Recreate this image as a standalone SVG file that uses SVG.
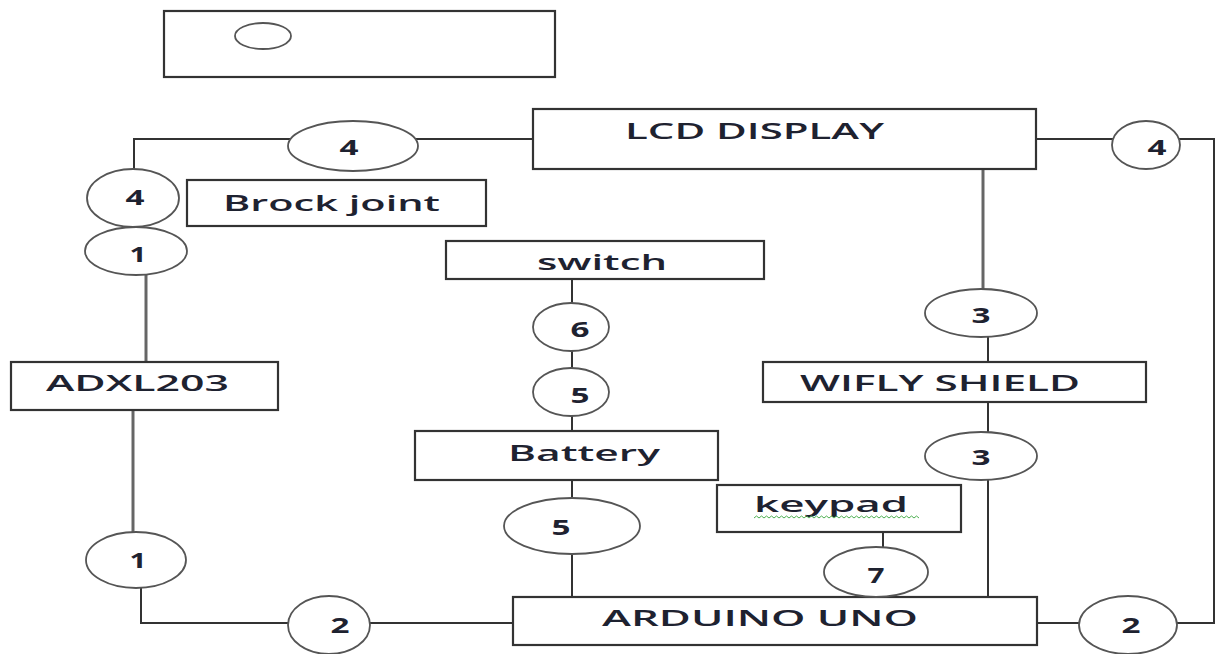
<svg xmlns="http://www.w3.org/2000/svg" width="1219" height="654" viewBox="0 0 1219 654">
<style>
.box{fill:#fff;stroke:#333;stroke-width:2.2}
.ell{fill:#fff;stroke:#555;stroke-width:1.8}
.ln{fill:none;stroke:#333;stroke-width:2}
.gl{fill:none;stroke:#666;stroke-width:3}
.t{font-family:"Open Sans","Liberation Sans",sans-serif;font-size:21px;font-weight:600;fill:#1e2230}
.n{font-family:"Open Sans","Liberation Sans",sans-serif;font-size:21px;font-weight:700;fill:#1e2230;text-anchor:middle}
</style>
<rect width="1219" height="654" fill="#fff"/>
<g id="connectors">
<path class="ln" d="M533 139 H134 V169"/>
<path class="gl" d="M146 275 V362"/>
<path class="gl" d="M133 410 V532"/>
<path class="ln" d="M141 588 V623 H513"/>
<path class="ln" d="M1036 139 H1214 V623 H1037"/>
<path class="gl" d="M983 169 V290"/>
<path class="ln" d="M988 335 V597"/>
<path class="ln" d="M572 279 V597"/>
<path class="ln" d="M883 532 V548"/>
</g>
<g id="top-box">
<rect class="box" x="164" y="11" width="391" height="66"/>
<ellipse class="ell" cx="263" cy="36" rx="28" ry="13"/>
</g>
<g id="lcd">
<rect class="box" x="533" y="109" width="503" height="60"/>
<text class="t" x="625" y="139" textLength="259" lengthAdjust="spacingAndGlyphs">LCD DISPLAY</text>
</g>
<g id="brock">
<rect class="box" x="187" y="180" width="299" height="46"/>
<text class="t" x="223" y="211" textLength="217" lengthAdjust="spacingAndGlyphs">Brock joint</text>
</g>
<g id="switch">
<rect class="box" x="446" y="241" width="318" height="38"/>
<text class="t" x="537" y="270" textLength="130" lengthAdjust="spacingAndGlyphs">switch</text>
</g>
<g id="adxl">
<rect class="box" x="11" y="362" width="267" height="48"/>
<text class="t" x="46" y="391" textLength="183" lengthAdjust="spacingAndGlyphs">ADXL203</text>
</g>
<g id="battery">
<rect class="box" x="415" y="431" width="303" height="49"/>
<text class="t" x="508" y="461" textLength="152" lengthAdjust="spacingAndGlyphs">Battery</text>
</g>
<g id="wifly">
<rect class="box" x="763" y="362" width="383" height="40"/>
<text class="t" x="800" y="391" textLength="280" lengthAdjust="spacingAndGlyphs">WIFLY SHIELD</text>
</g>
<g id="keypad">
<rect class="box" x="717" y="485" width="244" height="47"/>
<text class="t" x="754" y="512" textLength="154" lengthAdjust="spacingAndGlyphs">keypad</text>
<path d="M754 518 l2.5 -2 l2.5 2 l2.5 -2 l2.5 2 l2.5 -2 l2.5 2 l2.5 -2 l2.5 2 l2.5 -2 l2.5 2 l2.5 -2 l2.5 2 l2.5 -2 l2.5 2 l2.5 -2 l2.5 2 l2.5 -2 l2.5 2 l2.5 -2 l2.5 2 l2.5 -2 l2.5 2 l2.5 -2 l2.5 2 l2.5 -2 l2.5 2 l2.5 -2 l2.5 2 l2.5 -2 l2.5 2 l2.5 -2 l2.5 2 l2.5 -2 l2.5 2 l2.5 -2 l2.5 2 l2.5 -2 l2.5 2 l2.5 -2 l2.5 2 l2.5 -2 l2.5 2 l2.5 -2 l2.5 2 l2.5 -2 l2.5 2 l2.5 -2 l2.5 2 l2.5 -2 l2.5 2 l2.5 -2 l2.5 2 l2.5 -2 l2.5 2 l2.5 -2 l2.5 2 l2.5 -2 l2.5 2 l2.5 -2 l2.5 2 l2.5 -2 l2.5 2 l2.5 -2 l2.5 2 l2.5 -2 l2.5 2" fill="none" stroke="#4caf50" stroke-width="1"/>
</g>
<g id="arduino">
<rect class="box" x="513" y="597" width="524" height="48"/>
<text class="t" x="602" y="626" textLength="316" lengthAdjust="spacingAndGlyphs">ARDUINO UNO</text>
</g>
<g id="c4-top"><ellipse class="ell" cx="353" cy="146" rx="65" ry="25"/><text class="n" x="349" y="155" textLength="19" lengthAdjust="spacingAndGlyphs">4</text></g>
<g id="c4-left"><ellipse class="ell" cx="133" cy="198" rx="46" ry="29"/><text class="n" x="135" y="205" textLength="19" lengthAdjust="spacingAndGlyphs">4</text></g>
<g id="c1-upper"><ellipse class="ell" cx="136" cy="251" rx="51" ry="24"/><text class="n" x="138" y="262" textLength="17" lengthAdjust="spacingAndGlyphs">1</text></g>
<g id="c1-lower"><ellipse class="ell" cx="136" cy="560" rx="50" ry="28"/><text class="n" x="138" y="568" textLength="17" lengthAdjust="spacingAndGlyphs">1</text></g>
<g id="c2-left"><ellipse class="ell" cx="329" cy="625" rx="41" ry="29"/><text class="n" x="340" y="633" textLength="19" lengthAdjust="spacingAndGlyphs">2</text></g>
<g id="c6"><ellipse class="ell" cx="571" cy="327" rx="38" ry="24"/><text class="n" x="580" y="337" textLength="19" lengthAdjust="spacingAndGlyphs">6</text></g>
<g id="c5-upper"><ellipse class="ell" cx="571" cy="392" rx="38" ry="24"/><text class="n" x="580" y="403" textLength="19" lengthAdjust="spacingAndGlyphs">5</text></g>
<g id="c5-lower"><ellipse class="ell" cx="572" cy="526" rx="68" ry="28"/><text class="n" x="561" y="535" textLength="19" lengthAdjust="spacingAndGlyphs">5</text></g>
<g id="c3-upper"><ellipse class="ell" cx="981" cy="313" rx="56" ry="24"/><text class="n" x="981" y="323" textLength="19" lengthAdjust="spacingAndGlyphs">3</text></g>
<g id="c3-lower"><ellipse class="ell" cx="981" cy="456" rx="56" ry="24"/><text class="n" x="981" y="465" textLength="19" lengthAdjust="spacingAndGlyphs">3</text></g>
<g id="c7"><ellipse class="ell" cx="876" cy="572" rx="52" ry="25"/><text class="n" x="876" y="583" textLength="17" lengthAdjust="spacingAndGlyphs">7</text></g>
<g id="c2-right"><ellipse class="ell" cx="1128" cy="625" rx="49" ry="29"/><text class="n" x="1131" y="633" textLength="19" lengthAdjust="spacingAndGlyphs">2</text></g>
<g id="c4-right"><ellipse class="ell" cx="1146" cy="145" rx="34" ry="24"/><text class="n" x="1157" y="155" textLength="19" lengthAdjust="spacingAndGlyphs">4</text></g>
</svg>
